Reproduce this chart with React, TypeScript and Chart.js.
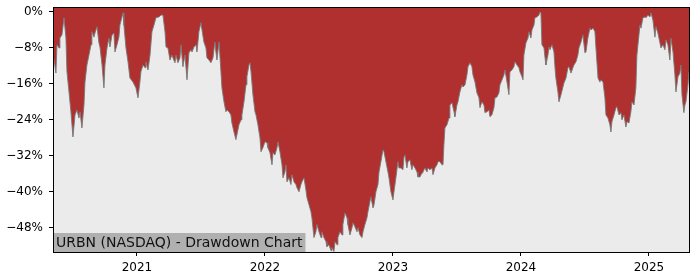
import { useEffect, useRef } from 'react';
import { Chart, registerables } from 'chart.js';

Chart.register(...registerables);

const FONT = '"DejaVu Sans", sans-serif';
const TITLE = 'URBN (NASDAQ) - Drawdown Chart';
const YEAR_TICKS = [2021, 2022, 2023, 2024, 2025];
const PCT_TICKS = [0, -8, -16, -24, -32, -40, -48];
const X_RANGE = [2020.344, 2025.313];
const Y_RANGE = [-53.4, 1.1];

// decimal-year dates
const DATES = [
  2020.344, 2020.367, 2020.375, 2020.391, 2020.398, 2020.414, 2020.430, 2020.445, 2020.453, 2020.469,
  2020.484, 2020.500, 2020.516, 2020.531, 2020.547, 2020.555, 2020.570, 2020.586, 2020.594, 2020.609,
  2020.625, 2020.641, 2020.648, 2020.664, 2020.672, 2020.688, 2020.703, 2020.711, 2020.727, 2020.742,
  2020.750, 2020.766, 2020.781, 2020.789, 2020.805, 2020.820, 2020.828, 2020.844, 2020.859, 2020.867,
  2020.883, 2020.891, 2020.898, 2020.914, 2020.930, 2020.945, 2020.969, 2020.992,
  2021.008, 2021.023, 2021.031, 2021.047, 2021.063, 2021.070, 2021.086, 2021.102, 2021.117, 2021.133,
  2021.148, 2021.172, 2021.188, 2021.203, 2021.219, 2021.227, 2021.242, 2021.258, 2021.273, 2021.281,
  2021.297, 2021.305, 2021.320, 2021.336, 2021.344, 2021.359, 2021.375, 2021.383, 2021.391, 2021.406,
  2021.422, 2021.430, 2021.445, 2021.461, 2021.469, 2021.484, 2021.500, 2021.508, 2021.523, 2021.539,
  2021.547, 2021.563, 2021.578, 2021.594, 2021.609, 2021.617, 2021.625, 2021.641, 2021.656, 2021.664,
  2021.680, 2021.695, 2021.703, 2021.719, 2021.734, 2021.742, 2021.758, 2021.773, 2021.781, 2021.797,
  2021.813, 2021.820, 2021.836, 2021.852, 2021.859, 2021.875, 2021.883, 2021.891, 2021.906, 2021.922,
  2021.930, 2021.945, 2021.961, 2021.969, 2021.984,
  2022.000, 2022.016, 2022.023, 2022.039, 2022.055, 2022.063, 2022.078, 2022.094, 2022.102, 2022.117,
  2022.133, 2022.141, 2022.156, 2022.164, 2022.172, 2022.188, 2022.203, 2022.211, 2022.227, 2022.242,
  2022.250, 2022.266, 2022.281, 2022.289, 2022.305, 2022.320, 2022.328, 2022.344, 2022.359, 2022.367,
  2022.383, 2022.398, 2022.406, 2022.422, 2022.438, 2022.445, 2022.461, 2022.477, 2022.484, 2022.500,
  2022.516, 2022.523, 2022.539, 2022.547, 2022.563, 2022.570, 2022.586, 2022.602, 2022.609, 2022.625,
  2022.641, 2022.648, 2022.664, 2022.680, 2022.688, 2022.703, 2022.719, 2022.727, 2022.742, 2022.758,
  2022.766, 2022.781, 2022.797, 2022.805, 2022.820, 2022.828, 2022.844, 2022.852, 2022.867, 2022.883,
  2022.891, 2022.906, 2022.922, 2022.930, 2022.945, 2022.961, 2022.969, 2022.984,
  2023.000, 2023.008, 2023.023, 2023.039, 2023.047, 2023.063, 2023.078, 2023.086, 2023.094, 2023.109,
  2023.117, 2023.133, 2023.148, 2023.156, 2023.172, 2023.188, 2023.195, 2023.211, 2023.227, 2023.234,
  2023.250, 2023.266, 2023.273, 2023.289, 2023.305, 2023.313, 2023.328, 2023.344, 2023.352, 2023.367,
  2023.383, 2023.391, 2023.398, 2023.406, 2023.422, 2023.438, 2023.445, 2023.461, 2023.477, 2023.484,
  2023.500, 2023.508, 2023.523, 2023.539, 2023.547, 2023.563, 2023.578, 2023.586, 2023.602, 2023.617,
  2023.625, 2023.641, 2023.656, 2023.672, 2023.680, 2023.695, 2023.711, 2023.719, 2023.734, 2023.750,
  2023.758, 2023.773, 2023.789, 2023.797, 2023.813, 2023.828, 2023.836, 2023.852, 2023.867, 2023.875,
  2023.891, 2023.906, 2023.914, 2023.930, 2023.945, 2023.953, 2023.969, 2023.984, 2023.992,
  2024.008, 2024.016, 2024.023, 2024.039, 2024.055, 2024.063, 2024.078, 2024.086, 2024.102, 2024.109,
  2024.125, 2024.141, 2024.148, 2024.156, 2024.164, 2024.180, 2024.188, 2024.195, 2024.211, 2024.219,
  2024.227, 2024.242, 2024.258, 2024.266, 2024.273, 2024.289, 2024.297, 2024.313, 2024.328, 2024.336,
  2024.352, 2024.367, 2024.375, 2024.391, 2024.406, 2024.414, 2024.430, 2024.445, 2024.453, 2024.469,
  2024.484, 2024.500, 2024.508, 2024.523, 2024.539, 2024.547, 2024.563, 2024.578, 2024.586, 2024.602,
  2024.617, 2024.625, 2024.641, 2024.656, 2024.664, 2024.680, 2024.695, 2024.703, 2024.711, 2024.727,
  2024.742, 2024.750, 2024.766, 2024.781, 2024.789, 2024.805, 2024.820, 2024.828, 2024.844, 2024.859,
  2024.867, 2024.883, 2024.898, 2024.906, 2024.922, 2024.930, 2024.938, 2024.953, 2024.969, 2024.977,
  2024.992,
  2025.008, 2025.016, 2025.031, 2025.047, 2025.055, 2025.070, 2025.086, 2025.094, 2025.109, 2025.125,
  2025.133, 2025.148, 2025.164, 2025.172, 2025.188, 2025.203, 2025.211, 2025.227, 2025.242, 2025.250,
  2025.258, 2025.273, 2025.281, 2025.289, 2025.305, 2025.313,
];

// drawdown from running peak, in %
const DRAWDOWN = [
  -9.1, -13.6, -7.3, -8.0, -5.8, -5.1, -1.3, -5.8, -13.3, -17.8,
  -22.2, -27.8, -22.9, -21.8, -23.6, -22.2, -25.8, -20.7, -15.6, -11.8,
  -9.6, -7.3, -4.4, -5.6, -4.7, -3.3, -6.9, -7.8, -11.8, -16.9,
  -11.8, -8.0, -5.8, -7.8, -5.1, -4.7, -8.9, -7.3, -5.6, -2.9,
  -1.1, -0.2, -2.9, -8.0, -11.1, -14.7, -15.6, -16.9,
  -19.1, -15.6, -13.3, -11.8, -12.4, -11.1, -12.9, -9.6, -4.4, -2.9,
  -1.3, -1.1, -0.7, -0.7, -4.4, -7.8, -8.0, -10.7, -9.6, -10.2,
  -11.3, -9.6, -11.3, -10.2, -7.3, -12.2, -9.6, -12.4, -15.1, -9.1,
  -8.4, -8.9, -7.8, -7.3, -8.9, -4.4, -2.4, -4.0, -6.7, -8.0,
  -10.2, -10.7, -11.3, -10.2, -6.7, -8.9, -10.7, -6.7, -13.3, -16.9,
  -20.0, -22.2, -21.8, -22.2, -22.9, -24.7, -26.7, -28.4, -27.3, -25.1,
  -24.0, -22.9, -20.0, -16.2, -14.4, -11.8, -11.3, -13.3, -18.4, -22.2,
  -22.9, -25.1, -28.0, -31.1, -30.2,
  -28.9, -29.1, -30.2, -31.3, -34.0, -31.3, -31.8, -30.2, -28.9, -31.1,
  -34.0, -36.9, -35.6, -34.0, -37.8, -36.9, -38.4, -36.2, -37.8, -38.4,
  -39.1, -40.0, -38.4, -37.8, -36.9, -39.6, -41.3, -42.9, -44.4, -45.8,
  -50.2, -48.9, -47.3, -48.9, -50.2, -48.9, -50.2, -51.1, -52.2, -51.8,
  -53.1, -52.4, -53.3, -51.1, -51.8, -50.2, -48.9, -49.6, -47.3, -44.7,
  -45.8, -47.3, -49.6, -48.0, -46.9, -47.8, -48.9, -48.0, -49.6, -50.2,
  -48.9, -47.3, -45.8, -44.4, -42.2, -41.1, -43.6, -42.9, -40.0, -38.4,
  -35.6, -33.3, -30.7, -31.1, -33.3, -35.6, -36.9, -40.0,
  -41.8, -40.0, -36.9, -33.3, -34.7, -34.7, -35.1, -32.4, -31.8, -34.7,
  -33.3, -32.9, -35.1, -34.0, -34.7, -35.6, -36.7, -36.7, -35.8, -35.6,
  -34.7, -35.6, -34.7, -35.1, -34.7, -36.2, -34.7, -34.0, -33.3, -33.3,
  -34.0, -34.0, -29.6, -25.8, -25.1, -23.6, -20.7, -20.2, -22.2, -23.3,
  -20.7, -20.0, -17.8, -16.2, -16.7, -16.2, -14.0, -12.2, -11.3, -12.2,
  -14.0, -15.6, -18.0, -19.1, -21.3, -20.0, -20.7, -22.4, -22.2, -21.8,
  -23.3, -22.9, -21.3, -19.1, -18.9, -18.0, -16.2, -15.1, -14.0, -12.9,
  -15.6, -18.4, -13.3, -12.9, -12.2, -11.1, -11.8, -12.4, -13.3,
  -14.4, -15.1, -9.6, -6.9, -5.8, -4.4, -5.8, -4.0, -2.9, -1.3,
  -1.1, -0.7, 0, -0.2, -7.3, -8.0, -10.2, -11.8, -9.6, -7.8,
  -8.4, -7.3, -8.9, -12.4, -14.7, -17.8, -20.0, -18.4, -16.7, -15.8,
  -14.7, -12.4, -12.2, -13.6, -12.4, -11.8, -11.1, -9.6, -8.0, -6.7,
  -5.1, -9.1, -8.9, -5.8, -3.6, -4.0, -3.6, -4.4, -8.0, -14.7,
  -15.6, -15.1, -15.6, -19.1, -22.9, -23.6, -25.1, -26.7, -24.4, -22.9,
  -21.3, -21.1, -22.9, -22.4, -24.0, -22.9, -25.6, -24.4, -24.7, -22.2,
  -20.0, -20.7, -16.9, -9.6, -5.1, -2.9, -3.6, -1.3, -1.1, -1.3,
  -0.7,
  -1.1, -0.2, -1.8, -5.6, -3.3, -4.7, -6.9, -8.0, -7.3, -8.4,
  -6.2, -7.3, -10.7, -5.8, -8.9, -14.0, -17.8, -14.4, -13.6, -11.8,
  -18.4, -22.4, -20.7, -20.0, -16.2, -13.3,
];

const formatPct = (v: number) => (v < 0 ? '\u2212' + Math.abs(v) : String(v)) + '%';

const framePlugin = {
  id: 'frame',
  beforeDatasetsDraw(chart: any) {
    const { ctx, chartArea: a } = chart;
    ctx.save();
    ctx.fillStyle = '#ebebeb';
    ctx.fillRect(a.left, a.top, a.right - a.left, a.bottom - a.top);
    ctx.restore();
  },
  afterDatasetsDraw(chart: any) {
    const { ctx, chartArea: a } = chart;
    ctx.save();
    ctx.font = '14px ' + FONT;
    const w = ctx.measureText(TITLE).width;
    ctx.fillStyle = '#b0b0b0';
    ctx.fillRect(a.left, a.bottom - 19, w + 6, 19);
    ctx.fillStyle = '#111';
    ctx.textBaseline = 'alphabetic';
    ctx.textAlign = 'left';
    ctx.fillText(TITLE, a.left + 3, a.bottom - 5);
    ctx.restore();
  },
  afterDraw(chart: any) {
    const { ctx, chartArea: a } = chart;
    ctx.save();
    ctx.strokeStyle = '#000';
    ctx.lineWidth = 1;
    ctx.strokeRect(a.left + 0.5, a.top + 0.5, a.right - a.left, a.bottom - a.top);
    ctx.restore();
  },
};

export default function App() {
  const ref = useRef<HTMLCanvasElement>(null);

  useEffect(() => {
    if (!ref.current) return;
    const chart = new Chart(ref.current, {
      type: 'line',
      data: {
        datasets: [
          {
            data: DATES.map((d, i) => ({ x: d, y: DRAWDOWN[i] })),
            borderColor: 'rgba(120,120,120,0.9)',
            borderWidth: 1,
            backgroundColor: '#b03030',
            fill: 'end',
            pointRadius: 0,
            tension: 0,
          },
        ],
      },
      options: {
        responsive: false,
        animation: false,
        layout: { padding: { top: 7, right: 11, left: 0, bottom: 0 } },
        plugins: { legend: { display: false }, tooltip: { enabled: false } },
        scales: {
          x: {
            type: 'linear',
            min: X_RANGE[0],
            max: X_RANGE[1],
            afterBuildTicks: (s: any) => {
              s.ticks = YEAR_TICKS.map((v) => ({ value: v }));
            },
            afterFit: (s: any) => {
              s.height = 28;
              s.paddingLeft = 0;
              s.paddingRight = 0;
            },
            grid: { drawOnChartArea: false, drawTicks: true, tickLength: 4, color: '#000', lineWidth: 1 },
            border: { display: false },
            ticks: {
              color: '#000',
              font: { size: 12, family: FONT },
              padding: 5,
              maxRotation: 0,
              autoSkip: false,
              callback: (v: any) => String(v),
            },
          },
          y: {
            type: 'linear',
            min: Y_RANGE[0],
            max: Y_RANGE[1],
            afterBuildTicks: (s: any) => {
              s.ticks = PCT_TICKS.map((v) => ({ value: v }));
            },
            afterFit: (s: any) => {
              s.width = 53;
              s.paddingTop = 0;
              s.paddingBottom = 0;
            },
            grid: { drawOnChartArea: false, drawTicks: true, tickLength: 4, color: '#000', lineWidth: 1 },
            border: { display: false },
            ticks: {
              color: '#000',
              font: { size: 12, family: FONT },
              padding: 6,
              autoSkip: false,
              callback: (v: any) => formatPct(Number(v)),
            },
          },
        },
      },
      plugins: [framePlugin],
    });
    return () => chart.destroy();
  }, []);

  return (
    <div style={{ position: 'absolute', left: 0, top: 0, width: 700, height: 280 }}>
      <canvas ref={ref} width={700} height={280} style={{ display: 'block' }} />
    </div>
  );
}
